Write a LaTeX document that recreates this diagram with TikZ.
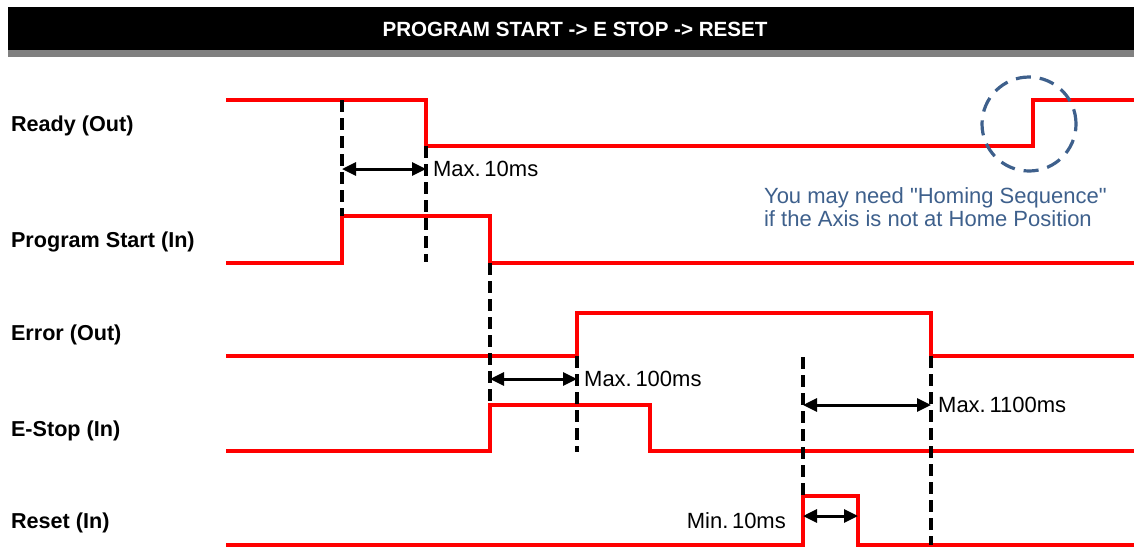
\documentclass[tikz,border=0pt]{standalone}
\usepackage{fontspec}
\setmainfont{Liberation Sans}
\usepackage{xcolor}
\usetikzlibrary{arrows.meta}
\definecolor{notecol}{RGB}{62,96,140}

\begin{document}
\begin{tikzpicture}[x=0.5pt,y=-0.5pt,>={Triangle[length=7pt,width=6.5pt]},
  sig/.style={red,line width=1.8pt},
  guide/.style={black,line width=1.8pt,dash pattern=on 6pt off 3pt},
  span/.style={<->,line width=1.5pt},
  lbl/.style={anchor=west,font=\bfseries\fontsize{10.8}{12}\selectfont},
  tm/.style={font=\fontsize{11}{13}\selectfont}]
  \useasboundingbox (0,0) rectangle (1134,548);
  \fill[black] (8,7) rectangle (1134,50);
  \fill[black!50] (8,50) rectangle (1134,57);
  \node[white,font=\bfseries\fontsize{10.3}{12}\selectfont] (title) at (575,29.5)
    {PROGRAM START -> E STOP -> RESET};
  % signal names
  \node[lbl] (rdy) at (4,126) {Ready (Out)};
  \node[lbl] (pst) at (4,242) {Program Start (In)};
  \node[lbl] (err) at (4,335) {Error (Out)};
  \node[lbl] (est) at (4,431) {E-Stop (In)};
  \node[lbl] (rst) at (4,523) {Reset (In)};
  % waveforms
  \draw[sig] (226,100) -- (426,100) -- (426,146) coordinate (rdyfall) -- (1033,146)
    -- (1033,100) -- (1134,100);
  \draw[sig] (226,263) -- (342,263) -- (342,216) coordinate (pstrise) -- (490,216)
    -- (490,263) coordinate (pstfall) -- (1134,263);
  \draw[sig] (226,356) -- (577,356) coordinate (errrise) -- (577,313) -- (931,313)
    -- (931,356) coordinate (errfall) -- (1134,356);
  \draw[sig] (226,451) -- (490,451) -- (490,405) coordinate (estrise) -- (650,405)
    -- (650,451) -- (1134,451);
  \draw[sig] (226,545) -- (803,545) -- (803,496) coordinate (rstrise) -- (858,496)
    coordinate (rsthi) -- (858,545) -- (1134,545);
  % timing guides
  \coordinate (g1) at (342,100);
  \coordinate (g2) at (426,262);
  \coordinate (g3) at (577,452);
  \coordinate (g4) at (803,357);
  \coordinate (g5) at (931,545);
  \draw[guide] (g1) -- (pstrise);
  \draw[guide] (rdyfall) -- (g2);
  \draw[guide] (pstfall) -- (estrise);
  \draw[guide] (errrise) -- (g3);
  \draw[guide] (g4) -- (rstrise);
  \draw[guide] (errfall) -- (g5);
  % intervals
  \draw[span] (g1 |- 0,169) -- (g2 |- 0,169) node[right,tm,xshift=-0.5pt] (t1) {Max.\,10ms};
  \draw[span] (estrise |- 0,379) -- (g3 |- 0,379) node[right,tm,xshift=-0.5pt] (t2) {Max.\,100ms};
  \draw[span] (g4 |- 0,405) -- (g5 |- 0,405) node[right,tm,xshift=-0.5pt] (t3) {Max.\,1100ms};
  \draw[span] (rstrise |- 0,516) -- (rsthi |- 0,516)
    node[pos=0,left,tm,xshift=-4.5pt,yshift=-2.5pt] (t4) {Min.\,10ms};
  % homing note
  \draw[notecol,line width=1.6pt,dash pattern=on 7.5pt off 4.5pt] (1029,124)
    circle[radius=23.5pt];
  \node[notecol,anchor=west,align=left,font=\fontsize{11}{11.5}\selectfont] (note)
    at (757,207) {You may need \textquotedbl Homing Sequence\textquotedbl\\if the Axis is not at Home Position};
\end{tikzpicture}
\end{document}
